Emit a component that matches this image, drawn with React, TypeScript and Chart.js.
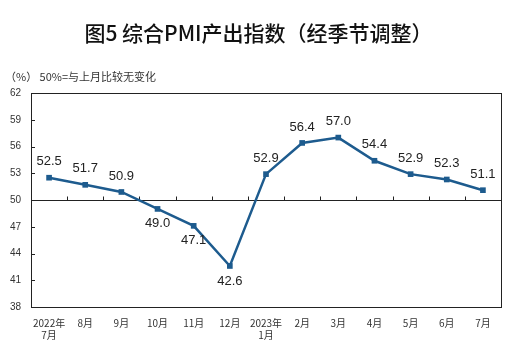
import React, { useEffect, useRef } from 'react';
import { Chart, registerables } from 'chart.js';

Chart.register(...registerables);

const TITLE = '图5 综合PMI产出指数（经季节调整）';
const SUBTITLE = '（%） 50%=与上月比较无变化';
const categories: (string | string[])[] = [
  ['2022年', '7月'], '8月', '9月', '10月', '11月', '12月',
  ['2023年', '1月'], '2月', '3月', '4月', '5月', '6月', '7月',
];
const values = [52.5, 51.7, 50.9, 49.0, 47.1, 42.6, 52.9, 56.4, 57.0, 54.4, 52.9, 52.3, 51.1];
const Y_MIN = 38;
const Y_MAX = 62;
const Y_STEP = 3;
const BASELINE = 50;

const LINE_COLOR = '#1d5b8e';
const FONT = '"Liberation Sans", Arial, "Noto Sans CJK SC", sans-serif';
const CJK_FONT = '"Noto Sans CJK SC", "Liberation Sans", sans-serif';

const framePlugin = {
  id: 'frame',
  beforeDatasetsDraw(chart: any) {
    const { ctx, chartArea } = chart;
    const { left, right, top, bottom } = chartArea;
    const y = chart.scales.y;
    const x = chart.scales.x;
    ctx.save();
    ctx.strokeStyle = '#222';
    ctx.lineWidth = 1;
    ctx.strokeRect(Math.round(left) + 0.5, Math.round(top) + 0.5, Math.round(right - left), Math.round(bottom - top));
    const yb = Math.round(y.getPixelForValue(BASELINE)) + 0.5;
    ctx.beginPath();
    ctx.moveTo(left, yb);
    ctx.lineTo(right, yb);
    ctx.stroke();
    for (let v = Y_MIN + Y_STEP; v < Y_MAX; v += Y_STEP) {
      if (v === BASELINE) continue;
      const py = Math.round(y.getPixelForValue(v)) + 0.5;
      ctx.beginPath();
      ctx.moveTo(left, py);
      ctx.lineTo(left + 4, py);
      ctx.stroke();
    }
    for (let i = 0; i < categories.length - 1; i++) {
      const px = Math.round((x.getPixelForTick(i) + x.getPixelForTick(i + 1)) / 2) + 0.5;
      ctx.beginPath();
      ctx.moveTo(px, yb);
      ctx.lineTo(px, yb - 4);
      ctx.stroke();
    }
    ctx.restore();
  },
};

const labelPlugin = {
  id: 'valueLabels',
  afterDatasetsDraw(chart: any) {
    const { ctx } = chart;
    const meta = chart.getDatasetMeta(0);
    ctx.save();
    ctx.font = `13px ${FONT}`;
    ctx.fillStyle = '#222';
    ctx.textAlign = 'center';
    ctx.textBaseline = 'middle';
    meta.data.forEach((pt: any, i: number) => {
      const v = values[i];
      const dy = v < BASELINE ? 15 : -16;
      ctx.fillText(v.toFixed(1), pt.x, pt.y + dy);
    });
    ctx.restore();
  },
};

export default function App() {
  const ref = useRef<HTMLCanvasElement>(null);
  useEffect(() => {
    document.body.style.margin = '0';
    const chart = new Chart(ref.current as HTMLCanvasElement, {
      type: 'line',
      data: {
        labels: categories,
        datasets: [
          {
            data: values,
            borderColor: LINE_COLOR,
            backgroundColor: LINE_COLOR,
            borderWidth: 2.5,
            pointStyle: 'rect',
            pointRadius: 4,
            pointBorderWidth: 0,
            tension: 0,
            yAxisID: 'y',
          },
        ],
      },
      options: {
        responsive: false,
        animation: false,
        layout: { padding: { left: 5, right: 9, top: 0, bottom: 0 } },
        plugins: {
          legend: { display: false },
          tooltip: { enabled: false },
          title: {
            display: true,
            text: TITLE,
            color: '#111',
            font: { family: CJK_FONT, size: 21, weight: '500', lineHeight: 1.2 },
            padding: { top: 20, bottom: 0 },
          },
          subtitle: {
            display: true,
            text: SUBTITLE,
            align: 'start',
            color: '#333',
            font: { family: CJK_FONT, size: 11, weight: 'normal', lineHeight: 1.2 },
            padding: { top: 24.6, bottom: 10 },
          },
        },
        scales: {
          x: {
            type: 'category',
            offset: true,
            grid: { display: false, drawTicks: false },
            border: { display: false },
            ticks: {
              color: '#333',
              padding: 10,
              maxRotation: 0,
              autoSkip: false,
              font: { family: CJK_FONT, size: 10, lineHeight: 1.2 },
            },
            afterFit(scale: any) {
              scale.height = 45;
            },
          },
          y: {
            position: 'left',
            min: Y_MIN,
            max: Y_MAX,
            grid: { display: false, drawTicks: false },
            border: { display: false },
            ticks: {
              stepSize: Y_STEP,
              color: '#333',
              padding: 10,
              font: { family: FONT, size: 10 },
            },
            afterFit(scale: any) {
              scale.width = 26;
            },
          },
          y2: {
            position: 'right',
            display: true,
            min: Y_MIN,
            max: Y_MAX,
            grid: { display: false, drawTicks: false },
            border: { display: false },
            ticks: { display: false },
            afterFit(scale: any) {
              scale.width = 11;
            },
          },
        },
      },
      plugins: [framePlugin, labelPlugin],
    } as any);
    return () => chart.destroy();
  }, []);
  return (
    <div style={{ position: 'absolute', left: 0, top: 0, width: 521, height: 352, background: '#fff' }}>
      <canvas ref={ref} width={521} height={352} />
    </div>
  );
}
